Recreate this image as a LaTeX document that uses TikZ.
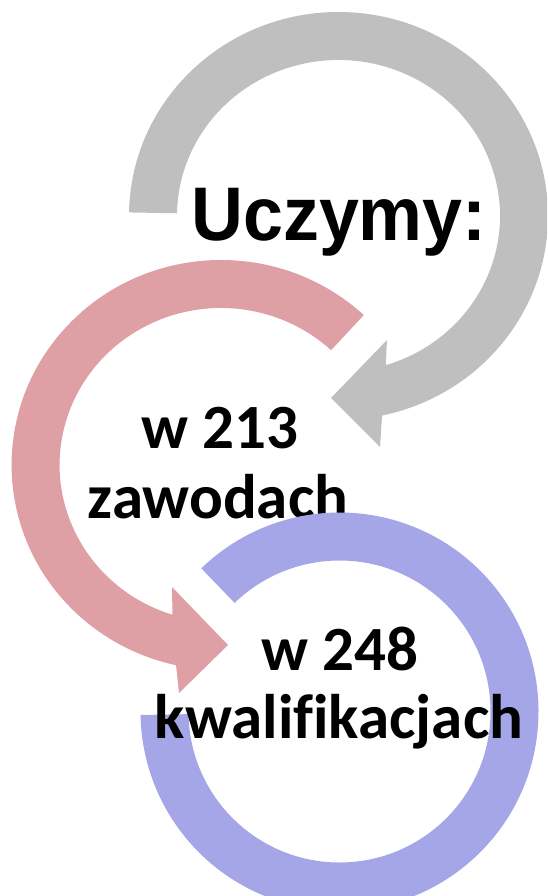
\documentclass[tikz,border=0pt]{standalone}
\usepackage{fontspec}
\usepackage{graphicx}
\usetikzlibrary{calc}
\newfontfamily\arialfont{Liberation Sans}
\newfontfamily\calibfont{Carlito}[Ligatures=NoCommon]
\definecolor{ringgray}{RGB}{191,191,191}
\definecolor{ringred}{RGB}{223,160,165}
\definecolor{ringblue}{RGB}{165,166,231}
\tikzset{
  bigtxt/.style={inner sep=0pt, outer sep=0pt, anchor=base, text=black,
    font=\arialfont\bfseries\fontsize{76}{76}\selectfont},
  cattxt/.style={inner sep=0pt, outer sep=0pt, anchor=base, text=black,
    font=\calibfont\bfseries\fontsize{63}{63}\selectfont}
}
\begin{document}
\begin{tikzpicture}[x=1pt,y=1pt]
\useasboundingbox (0,0) rectangle (547,-896);
\clip (0,0) rectangle (547,-896);
\coordinate (G) at (338.5,-216);
\coordinate (R) at (221,-465);
\coordinate (B) at (339.5,-711.5);
% gray arrow
\fill[ringgray] ($(G)+(-181:209.5pt and 204pt)$)
  arc[start angle=-181, end angle=-438, x radius=209.5pt, y radius=204pt]
  -- (380,-447) -- (331,-398) -- (387,-340)
  -- ($(G)+(-433:161.5pt and 156pt)$)
  arc[start angle=-433, end angle=-181, x radius=161.5pt, y radius=156pt]
  -- cycle;
\node[bigtxt] (t1) at (339,-240) {\scalebox{0.945}[1]{Uczymy:}};
% red arrow
\fill[ringred] ($(R)+(47:209.4pt and 205pt)$)
  arc[start angle=47, end angle=257.6, x radius=209.4pt, y radius=205pt]
  -- (179,-693) -- (228,-645) -- (172,-587)
  -- ($(R)+(252.5:161.4pt and 157pt)$)
  arc[start angle=252.5, end angle=47, x radius=161.4pt, y radius=157pt]
  -- cycle;
\node[cattxt] (t2a) at (219.5,-448) {w 213};
\node[cattxt] (t2b) at (218,-518) {zawodach};
% blue ring
\fill[ringblue] ($(B)+(134:199pt)$)
  arc[start angle=134, end angle=-179, radius=199pt]
  -- ($(B)+(-179:151pt)$)
  arc[start angle=-179, end angle=134, radius=151pt]
  -- cycle;
\node[cattxt] (t3a) at (339.5,-670) {w 248};
\node[cattxt] (t3b) at (339,-738) {kwalifikacjach};
\end{tikzpicture}
\end{document}
